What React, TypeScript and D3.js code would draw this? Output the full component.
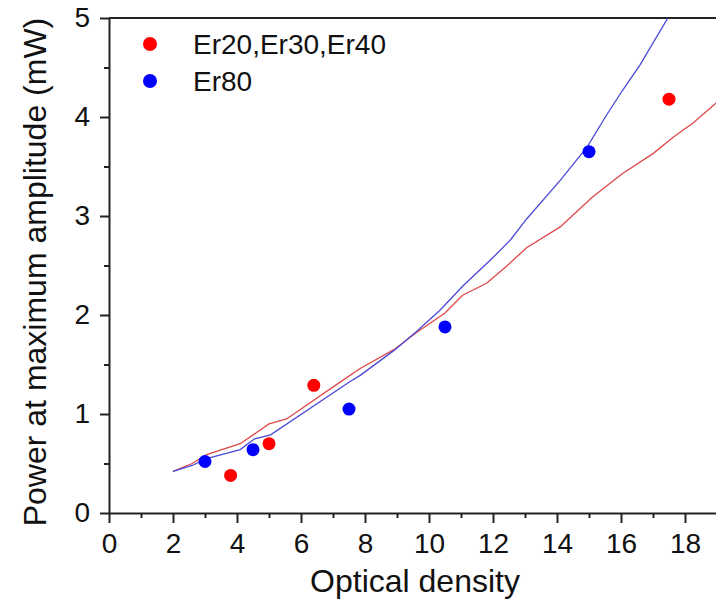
import React, { useEffect, useRef } from "react";
import * as d3 from "d3";

// Measured points (optical density vs. power at maximum amplitude)
const redX = [3.8, 5.0, 6.4, 17.5];
const redY = [0.38, 0.7, 1.29, 4.18];
const blueX = [3.0, 4.5, 7.5, 10.5, 15.0];
const blueY = [0.52, 0.64, 1.05, 1.88, 3.65];

// Simulated curves
const redFitX = [2.0, 2.6, 3.05, 4.1, 5.0, 5.55, 7.3, 7.85, 8.9, 9.6, 10.5, 11.05, 11.8, 12.45, 13.05, 14.1, 15.1, 16.05, 17.0, 17.65, 18.25, 19.0, 19.5];
const redFitY = [0.42, 0.5, 0.59, 0.7, 0.9, 0.95, 1.34, 1.46, 1.65, 1.82, 2.02, 2.2, 2.32, 2.5, 2.68, 2.89, 3.19, 3.43, 3.63, 3.8, 3.94, 4.15, 4.28];
const blueFitX = [2.0, 2.6, 3.05, 4.1, 4.55, 5.05, 7.5, 7.85, 8.9, 9.6, 10.35, 11.05, 12.0, 12.55, 13.05, 14.1, 14.95, 15.55, 16.05, 16.6, 17.5, 17.8];
const blueFitY = [0.42, 0.48, 0.55, 0.64, 0.75, 0.79, 1.32, 1.39, 1.64, 1.83, 2.05, 2.29, 2.58, 2.76, 2.97, 3.36, 3.7, 4.02, 4.27, 4.53, 5.02, 5.2];

const xMajorTicks = [0, 2, 4, 6, 8, 10, 12, 14, 16, 18];
const xMinorTicks = [1, 3, 5, 7, 9, 11, 13, 15, 17, 19];
const yMajorTicks = [0, 1, 2, 3, 4, 5];
const yMinorTicks = [0.5, 1.5, 2.5, 3.5, 4.5];

const legendLabels = ["Er20,Er30,Er40", "Er80"];
const seriesColors = ["#ff0000", "#0000ff"];
const lineColors = ["#e04848", "#4a4ad8"];

const W = 716;
const H = 599;
const left = 109;
const top = 18;
const bottom = 513;
const font = "'Liberation Sans', Arial, sans-serif";

export default function App() {
  const xAxisRef = useRef<SVGGElement>(null);
  const xMinorRef = useRef<SVGGElement>(null);
  const yAxisRef = useRef<SVGGElement>(null);
  const yMinorRef = useRef<SVGGElement>(null);

  const x = d3.scaleLinear().domain([0, 20]).range([left, left + 32 * 20]);
  const y = d3.scaleLinear().domain([0, 5]).range([bottom, top]);

  useEffect(() => {
    const style = (g: d3.Selection<SVGGElement, unknown, null, undefined>) => {
      g.selectAll("path").attr("stroke", "#222").attr("stroke-width", 2);
      g.selectAll("line").attr("stroke", "#222").attr("stroke-width", 2);
      g.selectAll("text").attr("fill", "#111").attr("font-family", font).attr("font-size", 28);
    };
    const gx = d3.select(xAxisRef.current!);
    gx.call(d3.axisBottom(x).tickValues(xMajorTicks).tickSize(10).tickSizeOuter(0).tickPadding(10).tickFormat(d3.format("d")));
    style(gx);
    const gxm = d3.select(xMinorRef.current!);
    gxm.call(d3.axisBottom(x).tickValues(xMinorTicks).tickSize(5).tickSizeOuter(0).tickFormat(() => ""));
    style(gxm);
    gxm.select("path").remove();

    const gy = d3.select(yAxisRef.current!);
    gy.call(d3.axisLeft(y).tickValues(yMajorTicks).tickSize(9).tickSizeOuter(0).tickPadding(10).tickFormat(d3.format("d")));
    style(gy);
    const gym = d3.select(yMinorRef.current!);
    gym.call(d3.axisLeft(y).tickValues(yMinorTicks).tickSize(5).tickSizeOuter(0).tickFormat(() => ""));
    style(gym);
    gym.select("path").remove();
  }, []);

  const makePath = (xs: number[], ys: number[]) =>
    d3
      .line<[number, number]>()
      .x((d) => x(d[0]))
      .y((d) => y(d[1]))(xs.map((v, i) => [v, ys[i]] as [number, number])) || "";

  return (
    <svg
      width={W}
      height={H}
      style={{ position: "absolute", left: 0, top: 0, background: "#fff" }}
      fontFamily={font}
    >
      <defs>
        <clipPath id="plotArea">
          <rect x={left} y={top} width={W - left} height={bottom - top} />
        </clipPath>
      </defs>

      {/* frame top edge */}
      <line x1={left} x2={W} y1={top} y2={top} stroke="#222" strokeWidth={2} />

      <g clipPath="url(#plotArea)">
        <path d={makePath(redFitX, redFitY)} fill="none" stroke={lineColors[0]} strokeWidth={1.3} />
        <path d={makePath(blueFitX, blueFitY)} fill="none" stroke={lineColors[1]} strokeWidth={1.3} />
      </g>

      {redX.map((v, i) => (
        <circle key={"r" + i} cx={x(v)} cy={y(redY[i])} r={6.5} fill={seriesColors[0]} />
      ))}
      {blueX.map((v, i) => (
        <circle key={"b" + i} cx={x(v)} cy={y(blueY[i])} r={6.5} fill={seriesColors[1]} />
      ))}

      <g ref={xMinorRef} transform={`translate(0,${bottom})`} />
      <g ref={xAxisRef} transform={`translate(0,${bottom})`} />
      <g ref={yMinorRef} transform={`translate(${left},0)`} />
      <g ref={yAxisRef} transform={`translate(${left},0)`} />

      {/* legend */}
      {legendLabels.map((lab, i) => (
        <g key={lab} transform={`translate(150,${44 + i * 37})`}>
          <circle cx={0} cy={0} r={7} fill={seriesColors[i]} />
          <text x={43} y={10} fontSize={28} fill="#111">
            {lab}
          </text>
        </g>
      ))}

      <text x={415} y={592} fontSize={32} textAnchor="middle" fill="#111">
        Optical density
      </text>
      <text
        transform={`translate(46,272) rotate(-90)`}
        fontSize={32}
        textAnchor="middle"
        fill="#111"
      >
        Power at maximum amplitude (mW)
      </text>
    </svg>
  );
}
